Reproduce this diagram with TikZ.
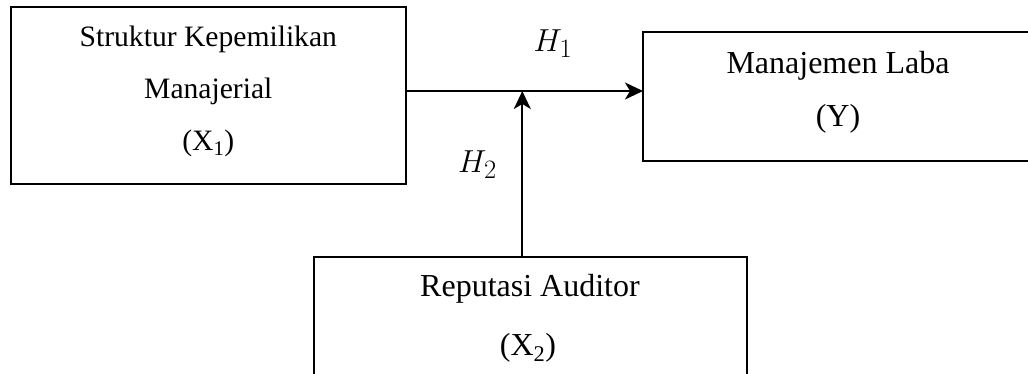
\documentclass[tikz,border=0pt]{standalone}
\usepackage{fontspec}
\setmainfont{Liberation Serif}
\usetikzlibrary{arrows.meta}
\newcommand{\hlabel}[1]{\scalebox{1.28}{\Huge$#1$}}
\begin{document}
\begin{tikzpicture}[x=1pt,y=-1pt,
  box/.style={draw, line width=1.9pt, inner sep=0pt, outer sep=0pt, anchor=north west},
  lblA/.style={anchor=base, inner sep=0pt, font=\fontsize{29.6}{36}\selectfont},
  lblB/.style={anchor=base, inner sep=0pt, font=\fontsize{32}{38}\selectfont},
  hyp/.style={anchor=base, inner sep=0pt},
  conn/.style={line width=1.9pt, -{Stealth[length=18pt,width=17pt,inset=5pt]}}]
\useasboundingbox (0,0) rectangle (1028,373);
\clip (0,0) rectangle (1028,373);
% boxes
\node[box, minimum width=395.3pt, minimum height=176.7pt] (b1) at (10.7,7.3) {};
\node[box, minimum width=397pt, minimum height=129.3pt] (b2) at (643,31.7) {};
\node[box, minimum width=433pt, minimum height=140pt] (b3) at (314,257.3) {};
% texts
\node[lblA] (t1a) at (208.3,46) {Struktur Kepemilikan};
\node[lblA] (t1b) at (208.3,98) {Manajerial};
\node[lblA] (t1c) at (208.3,150) {(X\textsubscript{1})};
\node[lblB] (t2a) at (838,73.3) {Manajemen Laba};
\node[lblB] (t2b) at (838,126.5) {(Y)};
\node[lblB] (t3a) at (530,296.7) {Reputasi Auditor};
\node[lblB] (t3b) at (528,355) {(X\textsubscript{2})};
\node[hyp] (h1) at (553,51.7) {\hlabel{H_1}};
\node[hyp] (h2) at (477.5,172.7) {\hlabel{H_2}};
% connectors
\coordinate (j) at (522.3,91);
\draw[conn] (j -| b1.east) -- (j -| b2.west);
\draw[conn] (b3.north -| j) -- (j);
\end{tikzpicture}
\end{document}
